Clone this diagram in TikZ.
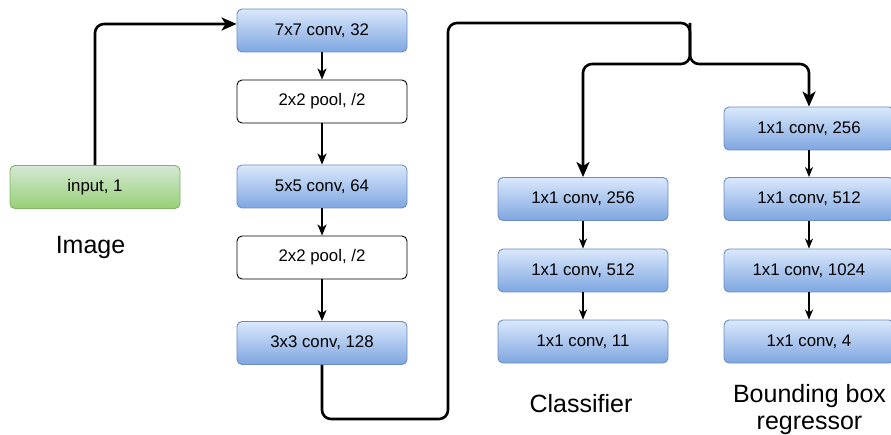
\documentclass[tikz,border=0pt]{standalone}
\usepackage{fontspec}
\setmainfont{Liberation Sans}
\usetikzlibrary{arrows.meta,calc}
\definecolor{bluetop}{HTML}{DAE8FC}
\definecolor{bluebot}{HTML}{7EA6E0}
\definecolor{blueedge}{HTML}{6C8EBF}
\definecolor{greentop}{HTML}{D5E8D4}
\definecolor{greenbot}{HTML}{97D077}
\definecolor{greenedge}{HTML}{82B366}
\begin{document}
\begin{tikzpicture}[x=1pt,y=-1pt,
  layer/.style={rectangle, rounded corners=5pt, minimum width=170pt,
    minimum height=43pt, inner sep=0pt, line width=0.9pt,
    font=\fontsize{16.8}{20}\selectfont},
  conv/.style={layer, draw=blueedge, top color=bluetop, bottom color=bluebot},
  pool/.style={layer, draw=black, fill=white},
  inp/.style={layer, draw=greenedge, top color=greentop, bottom color=greenbot},
  caption/.style={font=\fontsize{25}{30}\selectfont, anchor=base},
  flow/.style={line width=2.6pt, rounded corners=9pt,
    -{Stealth[length=15pt,width=13pt,inset=4pt]}},
  link/.style={line width=1.8pt, -{Stealth[length=11pt,width=9pt,inset=3pt]}},
  branchlink/.style={line width=1.2pt, -{Stealth[length=10pt,width=8pt,inset=3pt]}}]
\useasboundingbox (0,0) rectangle (891,435);

% input
\node[inp] (input) at (95,187) {input, 1};
\node[caption] (imgcap) at (90.5,254) {Image};

% feature extractor
\node[conv] (c1) at (322,30.5) {7x7 conv, 32};
\node[pool] (p1) at (322,101.5) {2x2 pool, /2};
\node[conv] (c2) at (322,186.5) {5x5 conv, 64};
\node[pool] (p2) at (322,257.5) {2x2 pool, /2};
\node[conv] (c3) at (322,343) {3x3 conv, 128};

% classifier head
\node[conv] (k1) at (583,199) {1x1 conv, 256};
\node[conv] (k2) at (583,270.5) {1x1 conv, 512};
\node[conv] (k3) at (583,341.5) {1x1 conv, 11};
\node[caption] (clscap) at (581,412) {Classifier};

% bounding box head
\node[conv] (b1) at (809,128.5) {1x1 conv, 256};
\node[conv] (b2) at (809,199) {1x1 conv, 512};
\node[conv] (b3) at (809,270.5) {1x1 conv, 1024};
\node[conv] (b4) at (809,341.5) {1x1 conv, 4};
\node[caption] (bbcap1) at (809.5,402) {Bounding box};
\node[caption] (bbcap2) at (809.5,429.5) {regressor};

% routing points
\coordinate (entry) at ($(c1.west)+(0,-6.5)$);
\coordinate (down) at (322,419);
\coordinate (up) at (448,419);
\coordinate (top) at (448,23);
\coordinate (fork) at (690,23);
\coordinate (split) at (690,64);

% connectors
\draw[flow] (input.north) |- (entry);
\draw[link] (c1) -- (p1);
\draw[link] (p1) -- (c2);
\draw[link] (c2) -- (p2);
\draw[link] (p2) -- (c3);
\draw[flow] (c3.south) -- (down) -- (up) -- (top) -- (fork) -- (split) -| (k1.north);
\draw[flow] (fork) -- (split) -| (b1.north);
\draw[branchlink] (k1) -- (k2);
\draw[branchlink] (k2) -- (k3);
\draw[branchlink] (b1) -- (b2);
\draw[branchlink] (b2) -- (b3);
\draw[branchlink] (b3) -- (b4);
\end{tikzpicture}
\end{document}
